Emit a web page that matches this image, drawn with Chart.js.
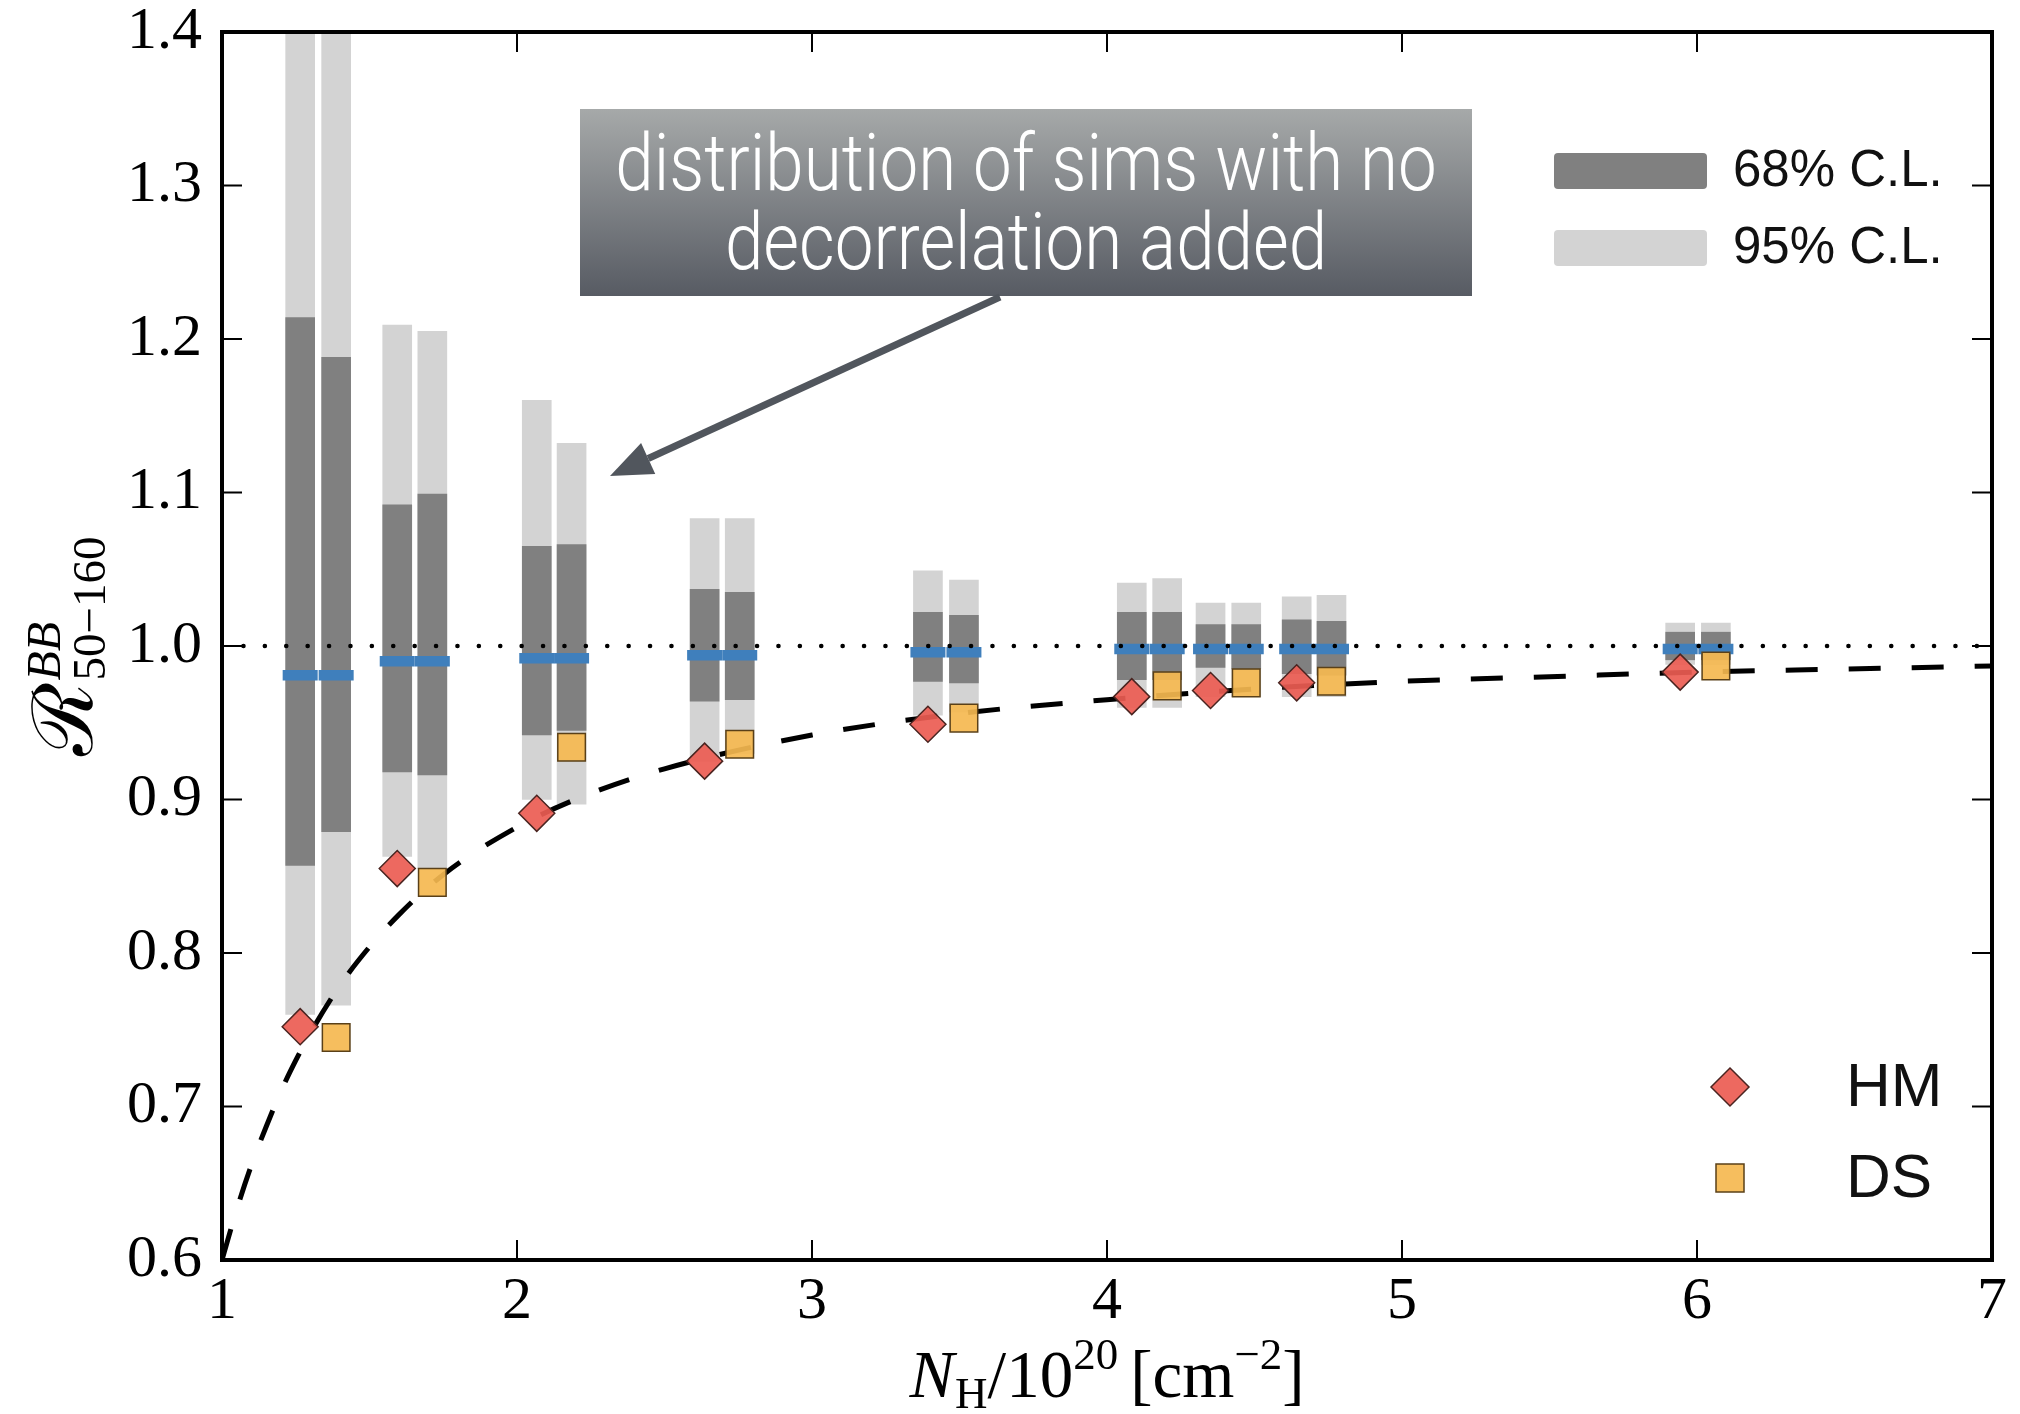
<!DOCTYPE html>
<html><head><meta charset="utf-8">
<script src="https://cdn.jsdelivr.net/npm/chart.js@4.4.0/dist/chart.umd.min.js"></script>
<style>html,body{margin:0;padding:0;background:#fff;} canvas{display:block;}</style>
</head><body>
<canvas id="c" width="2020" height="1414"></canvas>
<script>
// ---------------- data ----------------
const xHM = [1.265, 1.594, 2.067, 2.636, 3.393, 4.084, 4.351, 4.643, 5.943];
const xDS = [1.387, 1.713, 2.185, 2.755, 3.515, 4.204, 4.472, 4.761, 6.064];
const valHM = [0.752, 0.855, 0.891, 0.925, 0.949, 0.967, 0.971, 0.976, 0.983];
const valDS = [0.745, 0.846, 0.934, 0.936, 0.953, 0.974, 0.976, 0.977, 0.987];
const medHM = [0.981, 0.990, 0.992, 0.994, 0.996, 0.998, 0.998, 0.998, 0.998];
const medDS = [0.981, 0.990, 0.992, 0.994, 0.996, 0.998, 0.998, 0.998, 0.998];
const cl68LoHM = [0.857, 0.918, 0.942, 0.964, 0.977, 0.978, 0.986, 0.982, 0.991];
const cl68HiHM = [1.214, 1.092, 1.065, 1.037, 1.022, 1.022, 1.014, 1.017, 1.009];
const cl68LoDS = [0.879, 0.916, 0.945, 0.965, 0.976, 0.978, 0.985, 0.981, 0.991];
const cl68HiDS = [1.188, 1.099, 1.066, 1.035, 1.020, 1.022, 1.014, 1.016, 1.009];
const cl95LoHM = [0.760, 0.863, 0.900, 0.925, 0.955, 0.960, 0.967, 0.967, 0.988];
const cl95HiHM = [1.450, 1.209, 1.160, 1.083, 1.049, 1.041, 1.028, 1.032, 1.015];
const cl95LoDS = [0.766, 0.855, 0.897, 0.930, 0.957, 0.960, 0.967, 0.967, 0.988];
const cl95HiDS = [1.450, 1.205, 1.132, 1.083, 1.043, 1.044, 1.028, 1.033, 1.015];
const modelX = [1.0, 1.05, 1.1, 1.15, 1.2, 1.25, 1.3, 1.4, 1.5, 1.6, 1.75, 2.0, 2.25, 2.5, 3.0, 3.5, 4.0, 4.5, 5.0, 5.5, 6.0, 6.5, 7.0];
const modelY = [0.600, 0.633, 0.662, 0.687, 0.710, 0.730, 0.748, 0.779, 0.804, 0.825, 0.851, 0.882, 0.904, 0.920, 0.942, 0.956, 0.965, 0.972, 0.977, 0.980, 0.983, 0.985, 0.987];
const refX = [1, 7];
const refY = [1.0, 1.0];
const xTickLabels = ['1', '2', '3', '4', '5', '6', '7'];
const yTickLabels = ['0.6', '0.7', '0.8', '0.9', '1.0', '1.1', '1.2', '1.3', '1.4'];
const legendCL = ['68% C.L.', '95% C.L.'];
const legendSeries = ['HM', 'DS'];
const noteLines = ['distribution of sims with no', 'decorrelation added'];

// ---------------- build datasets ----------------
function pairs(xs, ys) { return xs.map((x, i) => ({ x: x, y: ys[i] })); }
function ranges(lo1, hi1, lo2, hi2) {
  const out = [];
  xHM.forEach((x, i) => {
    out.push({ x: x, y: [lo1[i], hi1[i]] });
    out.push({ x: xDS[i], y: [lo2[i], hi2[i]] });
  });
  return out;
}
const C_DARK = '#808080', C_LIGHT = '#d3d3d3', C_BLUE = '#3f7fbc';
const C_HM = 'rgba(236,92,82,0.92)', C_DS = 'rgba(245,185,80,0.92)';

const datasets = [
  { type: 'bar', label: '95% C.L.', data: ranges(cl95LoHM, cl95HiHM, cl95LoDS, cl95HiDS),
    backgroundColor: C_LIGHT, borderWidth: 0, barThickness: 29, grouped: false, order: 10 },
  { type: 'bar', label: '68% C.L.', data: ranges(cl68LoHM, cl68HiHM, cl68LoDS, cl68HiDS),
    backgroundColor: C_DARK, borderWidth: 0, barThickness: 29, grouped: false, order: 9 },
  { type: 'line', label: 'median', data: pairs(xHM.concat(xDS), medHM.concat(medDS)), showLine: false,
    pointStyle: 'line', pointRadius: 17.5, pointBorderWidth: 10.5, pointBorderColor: C_BLUE,
    pointBackgroundColor: C_BLUE, order: 8 },
  { type: 'line', label: 'ref', data: pairs(refX, refY), borderColor: '#000', borderWidth: 4.5,
    borderDash: [0.1, 21.3], borderCapStyle: 'round', pointRadius: 0, fill: false, order: 7 },
  { type: 'line', label: 'model', data: pairs(modelX, modelY), borderColor: '#000', borderWidth: 5,
    borderDash: [32, 31], cubicInterpolationMode: 'monotone', pointRadius: 0, fill: false, order: 6 },
  { type: 'line', label: 'HM', data: pairs(xHM, valHM), showLine: false, pointStyle: 'rectRot',
    pointRadius: 18, pointBackgroundColor: C_HM, pointBorderColor: '#4a2420', pointBorderWidth: 1.5, order: 5 },
  { type: 'line', label: 'DS', data: pairs(xDS, valDS), showLine: false, pointStyle: 'rect',
    pointRadius: 19.5, pointBackgroundColor: C_DS, pointBorderColor: '#5a4018', pointBorderWidth: 1.5, order: 4 }
];

// ---------------- decorations ----------------
function richText(ctx, parts, x, y, align) {
  let total = 0;
  parts.forEach(p => { ctx.font = p.font; p.w = ctx.measureText(p.t).width; total += p.w + (p.gap || 0); });
  let cx = align === 'center' ? x - total / 2 : x;
  parts.forEach(p => {
    ctx.font = p.font;
    ctx.fillText(p.t, cx, y + (p.dy || 0));
    cx += p.w + (p.gap || 0);
  });
}

const F = '"Liberation Serif"';
const deco = {
  id: 'deco',
  afterDraw(chart) {
    const ctx = chart.ctx, a = chart.chartArea, sx = chart.scales.x, sy = chart.scales.y;
    ctx.save();
    // inward ticks on all four sides
    ctx.strokeStyle = '#000'; ctx.lineWidth = 2;
    ctx.beginPath();
    sx.ticks.forEach(t => {
      const p = sx.getPixelForValue(t.value);
      ctx.moveTo(p, a.bottom); ctx.lineTo(p, a.bottom - 20);
      ctx.moveTo(p, a.top); ctx.lineTo(p, a.top + 20);
    });
    sy.ticks.forEach(t => {
      const p = sy.getPixelForValue(t.value);
      ctx.moveTo(a.left, p); ctx.lineTo(a.left + 20, p);
      ctx.moveTo(a.right, p); ctx.lineTo(a.right - 20, p);
    });
    ctx.stroke();
    // frame
    ctx.lineWidth = 4;
    ctx.strokeRect(a.left, a.top, a.right - a.left, a.bottom - a.top);

    // x tick labels (positions from the x scale)
    ctx.fillStyle = '#000'; ctx.font = '60px ' + F;
    ctx.textAlign = 'center'; ctx.textBaseline = 'top';
    sx.ticks.forEach(t => {
      const lab = xTickLabels[Math.round(t.value) - 1];
      if (lab) ctx.fillText(lab, sx.getPixelForValue(t.value), a.bottom + 12);
    });

    // annotation box
    const bx = 580, by = 109, bw = 892, bh = 187;
    const g = ctx.createLinearGradient(0, by, 0, by + bh);
    g.addColorStop(0, '#a6a9a9'); g.addColorStop(1, '#575b63');
    ctx.fillStyle = g; ctx.fillRect(bx, by, bw, bh);
    ctx.fillStyle = '#ffffff';
    ctx.font = '300 79px Roboto';
    ctx.textAlign = 'center'; ctx.textBaseline = 'alphabetic';
    [[noteLines[0], 190], [noteLines[1], 269]].forEach(([s, yy]) => {
      ctx.save(); ctx.translate(bx + bw / 2, yy); ctx.scale(0.875, 1);
      ctx.fillText(s, 0, 0); ctx.restore();
    });
    // arrow
    const x0 = 1000, y0 = 297, x1 = 610, y1 = 476;
    const ang = Math.atan2(y1 - y0, x1 - x0);
    const hl = 42, hw = 17;
    const bxh = x1 - hl * Math.cos(ang), byh = y1 - hl * Math.sin(ang);
    ctx.strokeStyle = '#51565d'; ctx.lineWidth = 7; ctx.lineCap = 'butt';
    ctx.beginPath(); ctx.moveTo(x0, y0); ctx.lineTo(bxh, byh); ctx.stroke();
    ctx.fillStyle = '#51565d';
    ctx.beginPath();
    ctx.moveTo(x1, y1);
    ctx.lineTo(bxh + hw * Math.sin(ang), byh - hw * Math.cos(ang));
    ctx.lineTo(bxh - hw * Math.sin(ang), byh + hw * Math.cos(ang));
    ctx.closePath(); ctx.fill();

    // C.L. legend
    ctx.textAlign = 'left'; ctx.textBaseline = 'middle';
    ctx.fillStyle = C_DARK;
    ctx.beginPath(); ctx.roundRect(1554, 153, 153, 36, 4); ctx.fill();
    ctx.fillStyle = C_LIGHT;
    ctx.beginPath(); ctx.roundRect(1554, 230, 153, 36, 4); ctx.fill();
    ctx.fillStyle = '#111';
    ctx.font = '51px "Liberation Sans"';
    ctx.fillText(legendCL[0], 1733, 172);
    ctx.fillText(legendCL[1], 1733, 249);

    // HM / DS legend
    ctx.fillStyle = C_HM; ctx.strokeStyle = '#4a2420'; ctx.lineWidth = 1.5;
    ctx.beginPath(); ctx.moveTo(1730, 1068); ctx.lineTo(1749, 1087); ctx.lineTo(1730, 1106); ctx.lineTo(1711, 1087); ctx.closePath();
    ctx.fill(); ctx.stroke();
    ctx.fillStyle = C_DS; ctx.strokeStyle = '#5a4018';
    ctx.fillRect(1716, 1164, 28, 28); ctx.strokeRect(1716, 1164, 28, 28);
    ctx.fillStyle = '#111';
    ctx.font = '62px "Liberation Sans"';
    ctx.fillText(legendSeries[0], 1846, 1089);
    ctx.fillText(legendSeries[1], 1846, 1180);

    // x axis title
    ctx.fillStyle = '#000'; ctx.textBaseline = 'alphabetic'; ctx.textAlign = 'left';
    richText(ctx, [
      { t: 'N', font: 'italic 67px ' + F, gap: 1 },
      { t: 'H', font: '45px ' + F, dy: 11 },
      { t: '/10', font: '67px ' + F },
      { t: '20', font: '45px ' + F, dy: -28, gap: 12 },
      { t: '[cm', font: '67px ' + F },
      { t: '\u22122', font: '45px ' + F, dy: -28 },
      { t: ']', font: '67px ' + F }
    ], (a.left + a.right) / 2, 1397, 'center');

    // y axis title (rotated)
    ctx.save();
    ctx.translate(92, (a.top + a.bottom) / 2);
    ctx.rotate(-Math.PI / 2);
    ctx.font = '47px ' + F;
    const subW = ctx.measureText('50\u2212160').width;
    ctx.font = '84px "DejaVu Serif"';
    const rW = ctx.measureText('\u211B').width;
    const tot = rW + 2 + subW;
    let cx = -tot / 2;
    ctx.fillText('\u211B', cx, 0);
    cx += rW + 2;
    ctx.font = 'italic 48px ' + F;
    ctx.fillText('BB', cx, -32);
    ctx.font = '47px ' + F;
    ctx.fillText('50\u2212160', cx, 13);
    ctx.restore();

    ctx.restore();
  }
};

// ---------------- chart ----------------
new Chart(document.getElementById('c'), {
  type: 'bar',
  data: { datasets: datasets },
  options: {
    responsive: false,
    animation: false,
    events: [],
    layout: { padding: { top: 32, right: 20, left: 0, bottom: 0 } },
    plugins: { legend: { display: false }, tooltip: { enabled: false } },
    scales: {
      x: {
        type: 'linear', min: 1, max: 7, offset: false,
        grid: { display: false, drawTicks: false }, border: { display: false },
        ticks: { display: false, stepSize: 1, maxRotation: 0 },
        afterFit: (s) => { s.height = 154; s.paddingLeft = 0; s.paddingRight = 0; }
      },
      y: {
        type: 'linear', min: 0.6, max: 1.4,
        grid: { display: false, drawTicks: false }, border: { display: false },
        ticks: { stepSize: 0.1, padding: 20, color: '#000',
          font: { family: 'Liberation Serif', size: 60 },
          callback: (v) => yTickLabels[Math.round((v - 0.6) * 10)] },
        afterFit: (s) => { s.width = 222; s.paddingTop = 0; s.paddingBottom = 0; }
      }
    }
  },
  plugins: [deco]
});
</script>
</body></html>
